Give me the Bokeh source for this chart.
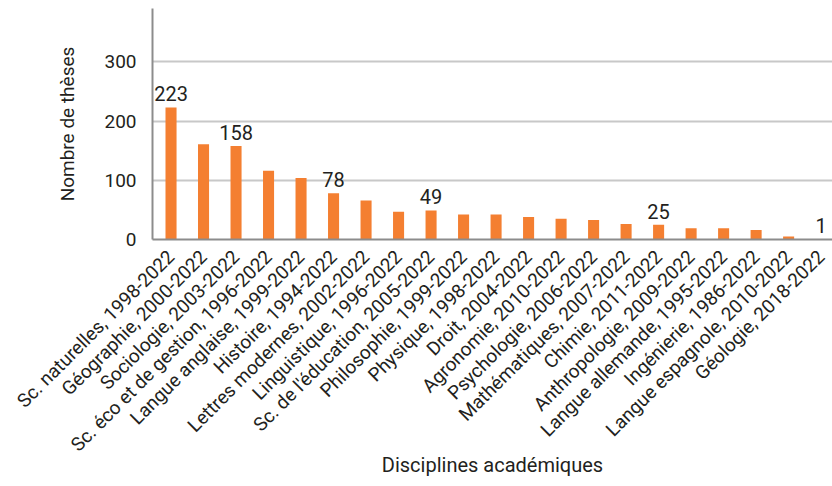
import math
from bokeh.plotting import figure
from bokeh.models import ColumnDataSource, Range1d, FixedTicker, LabelSet
from bokeh.embed import file_html
from bokeh.resources import INLINE
from bokeh.core.properties import value

categories = [
    "Sc. naturelles, 1998-2022", "Géographie, 2000-2022", "Sociologie, 2003-2022",
    "Sc. éco et de gestion, 1996-2022", "Langue anglaise, 1999-2022", "Histoire, 1994-2022",
    "Lettres modernes, 2002-2022", "Linguistique, 1996-2022", "Sc. de l'éducation, 2005-2022",
    "Philosophie, 1999-2022", "Physique, 1998-2022", "Droit, 2004-2022",
    "Agronomie, 2010-2022", "Psychologie, 2006-2022", "Mathématiques, 2007-2022",
    "Chimie, 2011-2022", "Anthropologie, 2009-2022", "Langue allemande, 1995-2022",
    "Ingénierie, 1986-2022", "Langue espagnole, 2010-2022", "Géologie, 2018-2022",
]
theses = [223, 161, 158, 116, 104, 78, 66, 47, 49, 42, 42, 38, 35, 33, 26, 25, 19, 19, 16, 5, 1]
labelled = [0, 2, 5, 8, 15, 20]
y_ticks = [0, 100, 200, 300]

FONT = "Roboto"
TXT = "#231f20"
ORANGE = "#f47f31"

xs = list(range(len(categories)))
src = ColumnDataSource(dict(x=xs, y=theses))
lab_src = ColumnDataSource(dict(
    x=[xs[i] for i in labelled],
    y=[theses[i] for i in labelled],
    t=[str(theses[i]) for i in labelled],
))

p = figure(frame_width=680, frame_height=231, output_backend="svg", toolbar_location=None,
           x_range=Range1d(-0.57, 20.35), y_range=Range1d(0, 390),
           min_border_left=152, min_border_top=8, min_border_right=0, min_border_bottom=0)
p.outline_line_color = None
p.background_fill_color = "white"
p.border_fill_color = "white"

p.vbar(x="x", top="y", width=0.34, source=src, color=ORANGE, line_color=None)

p.add_layout(LabelSet(x="x", y="y", text="t", source=lab_src, text_align="center",
                      text_baseline="bottom", y_offset=6, text_font=value(FONT),
                      text_font_size="20px", text_color=TXT))

# y axis
p.yaxis.ticker = FixedTicker(ticks=y_ticks)
p.yaxis.axis_line_color = "#8c8c8c"
p.yaxis.axis_line_width = 2
p.yaxis.major_tick_line_color = None
p.yaxis.minor_tick_line_color = None
p.yaxis.major_label_text_font = FONT
p.yaxis.major_label_text_font_size = "19px"
p.yaxis.major_label_text_color = TXT
p.yaxis.major_label_standoff = 10
p.yaxis.axis_label = "Nombre de thèses"
p.yaxis.axis_label_text_font = FONT
p.yaxis.axis_label_text_font_size = "19px"
p.yaxis.axis_label_text_font_style = "normal"
p.yaxis.axis_label_text_color = TXT
p.yaxis.axis_label_standoff = 22

# x axis
p.xaxis.ticker = FixedTicker(ticks=xs)
p.xaxis.major_label_overrides = {i: c for i, c in enumerate(categories)}
p.xaxis.major_label_orientation = math.pi / 4
p.xaxis.axis_line_color = "#8c8c8c"
p.xaxis.axis_line_width = 2
p.xaxis.major_tick_line_color = None
p.xaxis.minor_tick_line_color = None
p.xaxis.major_label_text_font = FONT
p.xaxis.major_label_text_font_size = "19px"
p.xaxis.major_label_text_color = TXT
p.xaxis.major_label_standoff = 8
p.xaxis.axis_label = "Disciplines académiques"
p.xaxis.axis_label_text_font = FONT
p.xaxis.axis_label_text_font_size = "20px"
p.xaxis.axis_label_text_font_style = "normal"
p.xaxis.axis_label_text_color = TXT
p.xaxis.axis_label_standoff = -14

p.xgrid.grid_line_color = None
p.ygrid.ticker = FixedTicker(ticks=y_ticks[1:])
p.ygrid.grid_line_color = "#c8c8c8"
p.ygrid.grid_line_width = 2

open("out.html", "w").write(file_html(p, INLINE))
